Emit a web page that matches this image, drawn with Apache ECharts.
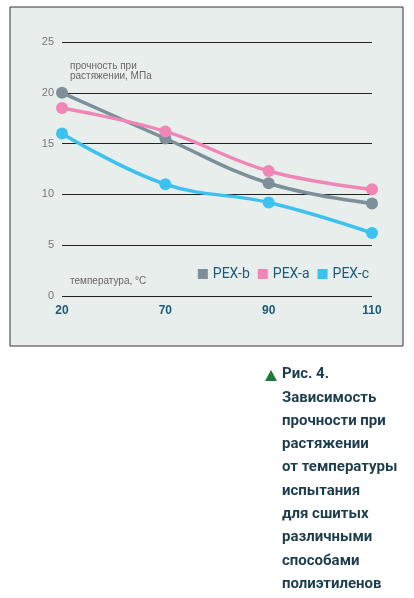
<!DOCTYPE html><html><head><meta charset="utf-8"><script src="https://cdn.jsdelivr.net/npm/echarts@6/dist/echarts.min.js"></script>
<style>html,body{margin:0;background:#fff}#c{width:414px;height:598px}</style></head><body><div id="c"></div><script>
const categories=['20','70','90','110'];
const pexB=[20,15.5,11.1,9.1];
const pexA=[18.5,16.2,12.3,10.5];
const pexC=[16,11,9.2,6.2];
const yTicks=[0,5,10,15,20,25];
const captionLines=['Рис. 4.','Зависимость','прочности при','растяжении','от температуры','испытания','для сшитых','различными','способами','полиэтиленов'];
const ch=echarts.init(document.getElementById('c'));
const ser=(n,d,c)=>({name:n,type:'line',data:d,smooth:0.4,symbol:'circle',symbolSize:12,lineStyle:{color:c,width:3.5},itemStyle:{color:c},z:3});
const cap=captionLines.map((t,i)=>({type:'text',left:282,top:367+i*23.3,style:{text:t,font:'bold 15px "Liberation Sans Narrow", Roboto',fill:'#1d3d4c'}}));
ch.setOption({animation:false,
graphic:[{type:'rect',shape:{x:10,y:7,width:393,height:339},style:{fill:'#e8eeec',stroke:'#333',lineWidth:1},z:-10},
{type:'text',left:70,top:61,style:{text:'прочность при\nрастяжении, МПа',font:'10px "Liberation Sans Narrow", Arial',fill:'#666',lineHeight:10}},
{type:'text',left:70,top:276,style:{text:'температура, °С',font:'10px "Liberation Sans Narrow", Arial',fill:'#666'}},
{type:'polygon',shape:{points:[[265,381],[271,370],[277,381]]},style:{fill:'#1f7a3a'}},
...cap],
legend:{right:40,top:262,itemWidth:10,itemHeight:10,itemGap:8,icon:'rect',textStyle:{color:'#1e5a78',fontSize:14,fontFamily:'"Liberation Sans Narrow", Roboto'},data:[{name:'PEX-b',itemStyle:{color:'#7d8f99'}},{name:'PEX-a',itemStyle:{color:'#ef86b5'}},{name:'PEX-c',itemStyle:{color:'#3dc2ef'}}]},
grid:{left:62,right:42,top:42,bottom:302},
xAxis:{type:'category',data:categories,boundaryGap:false,axisLine:{show:false},axisTick:{show:false},axisLabel:{color:'#1e5a78',fontWeight:'bold',fontSize:12,margin:9}},
yAxis:{type:'value',min:0,max:25,interval:5,axisLine:{show:false},axisTick:{show:false},axisLabel:{color:'#777',fontSize:11,margin:8,formatter:v=>yTicks.includes(v)?String(v):''},splitLine:{lineStyle:{color:'#222',width:1}}},
series:[ser('PEX-b',pexB,'#7d8f99'),ser('PEX-a',pexA,'#ef86b5'),ser('PEX-c',pexC,'#3dc2ef')]});
</script></body></html>
